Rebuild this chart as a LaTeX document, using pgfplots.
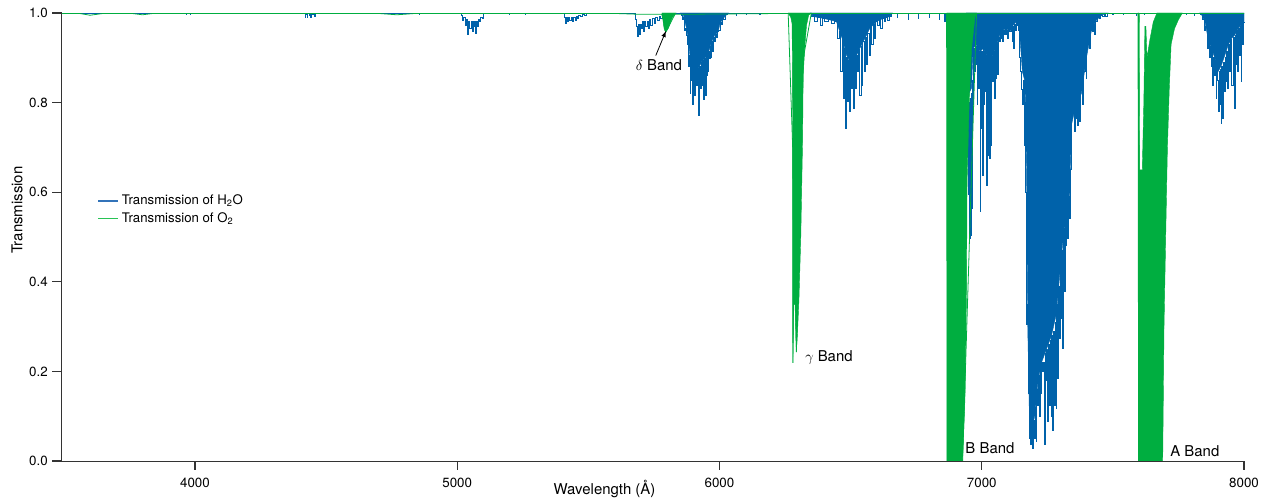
\documentclass[border=0pt]{standalone}
\usepackage{fontspec}
\setmainfont{TeX Gyre Heros}
\usepackage{pgfplots}
\pgfplotsset{compat=1.18}
\usepackage{pgfplotstable}
\definecolor{hblue}{RGB}{0,98,170}
\definecolor{ogreen}{RGB}{0,174,64}
\definecolor{legblue}{RGB}{50,115,185}
\definecolor{leggreen}{RGB}{40,195,85}

\pgfplotstableread{
x y
3493 0.999
3966 0.999
3968 0.996
3970 0.999
3980 0.999
3982 0.997
3984 0.999
4419 0.999
4420 0.991
4421 0.999
4424 0.999
4425 0.996
4426 0.999
4429 0.999
4430 0.989
4431 0.999
4435 0.999
4436 0.995
4437 0.999
4441 0.999
4442 0.990
4443 0.999
4449 0.999
4450 0.996
4451 0.999
4457 0.999
4458 0.993
4459 0.999
4855 0.999
4856 0.997
4857 0.999
5015 0.999
5020 0.995
5023 0.984
5028 0.990
5033 0.973
5037 0.985
5042 0.951
5046 0.980
5051 0.966
5055 0.980
5059 0.958
5062 0.980
5065 0.970
5068 0.980
5071 0.955
5075 0.980
5080 0.970
5084 0.985
5087 0.981
5092 0.990
5097 0.988
5103 0.999
5199 0.999
5200 0.997
5201 0.999
5259 0.999
5260 0.997
5261 0.999
5405 0.999
5410 0.990
5415 0.977
5419 0.990
5423 0.981
5427 0.990
5432 0.984
5437 0.990
5442 0.981
5447 0.990
5453 0.984
5457 0.993
5461 0.988
5467 0.995
5474 0.992
5480 0.997
5487 0.994
5495 0.999
5675 0.999
5682 0.985
5686 0.970
5690 0.947
5693 0.975
5697 0.951
5701 0.975
5706 0.966
5709 0.980
5713 0.958
5717 0.980
5722 0.970
5727 0.980
5732 0.966
5736 0.985
5741 0.973
5747 0.988
5754 0.977
5760 0.990
5767 0.984
5773 0.993
5779 0.988
5785 0.998
5849 0.999
5858 0.995
5862 0.985
5866 0.990
5870 0.960
5874 0.966
5877 0.950
5880 0.930
5882 0.943
5885 0.880
5887 0.906
5890 0.821
5892 0.890
5895 0.850
5897 0.884
5900 0.795
5903 0.880
5906 0.817
5909 0.876
5913 0.839
5916 0.876
5918 0.850
5920 0.876
5923 0.772
5926 0.880
5928 0.832
5931 0.890
5932 0.860
5933 0.890
5935 0.839
5938 0.895
5942 0.806
5945 0.899
5948 0.817
5951 0.905
5952 0.860
5954 0.908
5955 0.869
5959 0.915
5963 0.899
5966 0.925
5968 0.900
5971 0.937
5974 0.914
5978 0.945
5982 0.936
5986 0.953
5990 0.945
5995 0.958
6000 0.960
6004 0.978
6010 0.975
6014 0.988
6020 0.985
6027 0.996
6035 0.999
6063 0.999
6064 0.995
6065 0.999
6103 0.999
6104 0.996
6105 0.999
6153 0.999
6154 0.997
6155 0.999
6345 0.999
6357 0.992
6370 0.981
6378 0.990
6389 0.973
6396 0.988
6408 0.981
6420 0.986
6434 0.977
6446 0.981
6453 0.943
6459 0.958
6465 0.869
6469 0.945
6474 0.810
6478 0.920
6482 0.743
6486 0.900
6491 0.802
6494 0.893
6497 0.780
6501 0.893
6506 0.832
6509 0.899
6512 0.787
6516 0.902
6520 0.832
6524 0.906
6529 0.869
6533 0.918
6538 0.817
6541 0.925
6545 0.839
6549 0.936
6554 0.869
6558 0.945
6563 0.884
6567 0.955
6573 0.906
6578 0.970
6584 0.929
6588 0.975
6592 0.943
6599 0.981
6605 0.973
6612 0.985
6618 0.966
6624 0.988
6631 0.981
6637 0.990
6643 0.984
6650 0.992
6660 0.999
6679 0.999
6680 0.990
6681 0.999
6719 0.999
6720 0.985
6721 0.999
6759 0.999
6760 0.988
6761 0.999
6799 0.999
6800 0.990
6801 0.999
6839 0.999
6840 0.985
6841 0.999
6859 0.999
6860 0.980
6861 0.999
6940 0.999
6948 0.950
6951 0.594
6953 0.800
6955 0.497
6956 0.810
6958 0.504
6960 0.820
6962 0.564
6964 0.850
6967 0.795
6970 0.920
6974 0.869
6977 0.925
6980 0.884
6982 0.925
6984 0.795
6987 0.920
6990 0.832
6992 0.915
6995 0.557
6998 0.915
7000 0.743
7002 0.915
7004 0.638
7007 0.920
7009 0.795
7012 0.915
7014 0.824
7017 0.906
7021 0.616
7024 0.905
7026 0.683
7028 0.900
7031 0.676
7034 0.900
7037 0.705
7040 0.903
7044 0.847
7047 0.915
7050 0.810
7053 0.925
7056 0.854
7059 0.935
7063 0.862
7066 0.945
7069 0.936
7072 0.955
7075 0.943
7078 0.958
7082 0.936
7085 0.962
7088 0.951
7091 0.965
7094 0.951
7098 0.962
7101 0.943
7105 0.960
7110 0.958
7114 0.965
7117 0.936
7120 0.970
7122 0.921
7126 0.975
7130 0.962
7133 0.981
7135 0.973
7140 0.980
7143 0.960
7145 0.900
7150 0.870
7155 0.830
7158 0.795
7161 0.850
7164 0.705
7167 0.800
7169 0.600
7171 0.497
7173 0.304
7176 0.350
7178 0.162
7181 0.150
7183 0.051
7186 0.100
7189 0.036
7191 0.090
7194 0.028
7197 0.120
7201 0.090
7204 0.051
7206 0.120
7209 0.043
7212 0.160
7215 0.125
7218 0.190
7222 0.100
7225 0.210
7228 0.150
7231 0.220
7234 0.200
7237 0.220
7241 0.036
7244 0.240
7247 0.180
7250 0.250
7253 0.088
7256 0.260
7260 0.125
7263 0.270
7266 0.100
7269 0.280
7272 0.069
7275 0.290
7279 0.125
7282 0.310
7285 0.117
7288 0.350
7292 0.185
7295 0.390
7298 0.274
7301 0.440
7304 0.318
7307 0.470
7311 0.252
7314 0.520
7317 0.378
7320 0.540
7323 0.482
7326 0.570
7330 0.497
7333 0.590
7336 0.542
7339 0.650
7342 0.705
7345 0.790
7349 0.795
7352 0.800
7355 0.735
7358 0.800
7361 0.765
7365 0.810
7368 0.750
7371 0.815
7374 0.757
7377 0.830
7380 0.869
7384 0.850
7387 0.795
7390 0.870
7393 0.869
7396 0.890
7399 0.854
7403 0.920
7406 0.936
7409 0.940
7412 0.921
7415 0.960
7418 0.966
7421 0.970
7425 0.958
7428 0.975
7431 0.951
7434 0.980
7438 0.981
7444 0.990
7450 0.988
7456 0.995
7463 0.992
7470 0.997
7476 0.992
7485 0.999
7499 0.999
7500 0.997
7501 0.999
7539 0.999
7540 0.996
7541 0.999
7589 0.999
7590 0.995
7591 0.999
7619 0.999
7620 0.996
7621 0.999
7779 0.999
7780 0.997
7781 0.999
7809 0.999
7810 0.995
7811 0.999
7830 0.999
7838 0.996
7845 0.985
7851 0.960
7857 0.970
7863 0.920
7867 0.940
7870 0.900
7873 0.925
7876 0.880
7879 0.920
7882 0.839
7886 0.900
7889 0.860
7892 0.895
7895 0.810
7898 0.880
7901 0.850
7903 0.780
7906 0.870
7908 0.795
7911 0.875
7914 0.754
7917 0.880
7920 0.765
7923 0.890
7927 0.824
7930 0.900
7933 0.847
7936 0.915
7940 0.832
7944 0.930
7948 0.869
7952 0.940
7956 0.839
7960 0.945
7965 0.787
7968 0.950
7971 0.884
7975 0.960
7978 0.869
7981 0.965
7984 0.906
7987 0.970
7990 0.847
7994 0.975
7997 0.929
8000 0.978
}\htwo

\pgfplotstableread{
x y
5849 1
5862 0.996
5874 0.966
5881 0.943
5887 0.906
5894 0.884
5906 0.876
5919 0.876
5932 0.891
5944 0.899
5957 0.910
5970 0.936
5982 0.951
5995 0.958
6002 0.977
6014 0.988
6027 0.996
6035 1
5849 1
}\hcoreA

\pgfplotstableread{
x y
6345 1
6357 0.992
6396 0.988
6446 0.981
6459 0.958
6472 0.936
6484 0.906
6497 0.891
6510 0.899
6523 0.906
6535 0.921
6548 0.936
6561 0.951
6573 0.966
6599 0.981
6624 0.988
6650 0.992
6660 1
6345 1
}\hcoreB

\pgfplotstableread{
x y
6940 1
6948 0.988
6950 0.820
6961 0.832
6967 0.921
6980 0.929
6993 0.914
7006 0.921
7018 0.906
7031 0.899
7044 0.906
7056 0.929
7069 0.951
7082 0.962
7094 0.966
7107 0.958
7120 0.973
7133 0.981
7140 0.975
7145 0.951
7155 0.869
7165 0.847
7171 0.646
7175 0.311
7181 0.120
7190 0.070
7202 0.100
7215 0.180
7228 0.220
7247 0.250
7266 0.280
7285 0.330
7298 0.420
7311 0.500
7323 0.550
7336 0.600
7342 0.750
7361 0.800
7380 0.820
7399 0.900
7418 0.960
7438 0.985
7460 0.996
7480 1
6940 1
}\hcoreC

\pgfplotstableread{
x y
7830 1
7838 0.996
7851 0.981
7863 0.943
7876 0.921
7889 0.899
7901 0.869
7914 0.884
7927 0.906
7940 0.929
7952 0.943
7965 0.951
7978 0.966
7990 0.973
8000 0.978
8000 1
7830 1
}\hcoreD

\pgfplotstableread{
x y
5780 1
5783 0.996
5786 0.975
5790 0.962
5796 0.958
5805 0.966
5812 0.977
5820 0.990
5830 0.997
5835 1
5780 1
}\gdelta

\pgfplotstableread{
x y
6262 1
6272 0.990
6277 0.975
6279 0.700
6280 0.219
6283 0.350
6288 0.350
6293 0.243
6297 0.280
6303 0.360
6310 0.500
6317 0.720
6319 0.860
6326 0.930
6332 0.973
6340 0.995
6350 1
6262 1
}\ggamma

\pgfplotstableread{
x y
6866 1
6868 0.990
6868 0
6927 0
6936 0.140
6942 0.377
6944 0.620
6952 0.795
6961 0.920
6974 0.990
6980 1
6866 1
}\gB

\pgfplotstableread{
x y
7595 1
7597 0.990
7597 0
7690 0
7695 0.300
7703 0.550
7708 0.700
7715 0.830
7722 0.930
7735 0.965
7750 0.985
7765 1
7668 1
7654 0.980
7641 0.940
7630 0.900
7626 0.970
7622 0.970
7618 0.800
7612 0.650
7602 0.650
7600 0.990
7599 1
7595 1
}\gA

\pgfplotstableread{
x y
3493 0.999
3560 0.999
3600 0.995
3650 0.999
3760 0.999
3800 0.996
3840 0.999
4700 0.999
4770 0.996
4840 0.999
5600 0.999
5700 0.997
5780 0.997
5796 0.958
5830 0.997
6262 0.999
6279 0.700
6280 0.219
6282 0.350
6290 0.350
6293 0.243
6296 0.300
6320 0.900
6350 0.999
6866 0.999
6868 0
6927 0
6980 0.999
7596 0.999
7598 0
7600 0.999
7765 0.999
8000 0.999
}\otwo

\begin{document}
\begin{tikzpicture}
\begin{axis}[
  scale only axis,
  width=886.5pt, height=336pt,
  xmin=3493, xmax=8000, ymin=0, ymax=1,
  clip=false,
  axis line style={draw=none},
  xtick=\empty, ytick=\empty,
  xlabel={Wavelength (Å)},
  ylabel={Transmission},
  xlabel style={font=\fontsize{11.2}{13}\selectfont, at={(axis description cs:0.459,0)}, anchor=center, yshift=-21pt},
  ylabel style={font=\fontsize{11.2}{13}\selectfont, at={(axis description cs:-0.0381,0.56)}, anchor=center},
  legend cell align=left,
  legend style={draw=none, fill=none, at={(axis description cs:0.029,0.603)}, anchor=north west,
    font=\fontsize{9.9}{11}\selectfont, inner sep=1pt, row sep=0pt},
]
\addplot[fill=hblue, draw=hblue, line width=0.3pt, forget plot] table {\hcoreA};
\addplot[fill=hblue, draw=hblue, line width=0.3pt, forget plot] table {\hcoreB};
\addplot[fill=hblue, draw=hblue, line width=0.3pt, forget plot] table {\hcoreC};
\addplot[fill=hblue, draw=hblue, line width=0.3pt, forget plot] table {\hcoreD};
\addplot[hblue, line width=0.7pt, const plot mark mid, forget plot] table {\htwo};
\addplot[fill=ogreen, draw=ogreen, line width=0.3pt, forget plot] table {\gdelta};
\addplot[fill=ogreen, draw=ogreen, line width=0.3pt, forget plot] table {\ggamma};
\addplot[fill=ogreen, draw=ogreen, line width=0.3pt, forget plot] table {\gB};
\addplot[fill=ogreen, draw=ogreen, line width=0.3pt, forget plot] table {\gA};
\addplot[ogreen, line width=0.6pt, forget plot] table {\otwo};

\draw[black!80, line width=0.75pt] (rel axis cs:0,1) -- (rel axis cs:0,0) -- (rel axis cs:1,0);
\pgfplotsinvokeforeach{4000,5000,6000,7000,8000}{
  \draw[black!80, line width=0.8pt] (axis cs:#1,0) -- (axis cs:#1,-0.0201);
  \node[font=\fontsize{10}{12}\selectfont, anchor=center, inner sep=0pt] at ([yshift=-16.5pt]axis cs:#1,0) {#1};
}
\pgfplotsinvokeforeach{0.0,0.2,0.4,0.6,0.8,1.0}{
  \draw[black!80, line width=0.8pt] (axis cs:3493,#1) -- (axis cs:3454.9,#1);
  \node[font=\fontsize{10}{12}\selectfont, anchor=east, inner sep=0pt] at ([xshift=-10.5pt]axis cs:3493,#1) {#1};
}

\addlegendimage{legend image code/.code={\draw[legblue, line width=0.9pt] (0pt,0pt) -- (15pt,0pt);}}
\addlegendentry{Transmission of H\textsubscript{2}O}
\addlegendimage{legend image code/.code={\draw[leggreen, line width=0.9pt] (0pt,0pt) -- (15pt,0pt);}}
\addlegendentry{Transmission of O\textsubscript{2}}

\node[font=\fontsize{11.2}{13}\selectfont, anchor=center] at (axis cs:5769,0.884) {$\delta$ Band};
\draw[-latex, line width=0.6pt] (axis cs:5757,0.905) -- (axis cs:5796,0.960);
\node[font=\fontsize{11.2}{13}\selectfont, anchor=west, inner sep=0pt] at (axis cs:6326,0.230) {$\gamma$ Band};
\node[font=\fontsize{11.2}{13}\selectfont, anchor=west, inner sep=0pt] at (axis cs:6937,0.029) {B Band};
\node[font=\fontsize{11.2}{13}\selectfont, anchor=west, inner sep=0pt] at (axis cs:7718,0.022) {A Band};
\end{axis}
\pgfresetboundingbox
\path ([xshift=-46.5pt,yshift=-31.5pt]current axis.south west) rectangle ([xshift=21.75pt,yshift=9.75pt]current axis.north east);
\end{tikzpicture}
\end{document}
